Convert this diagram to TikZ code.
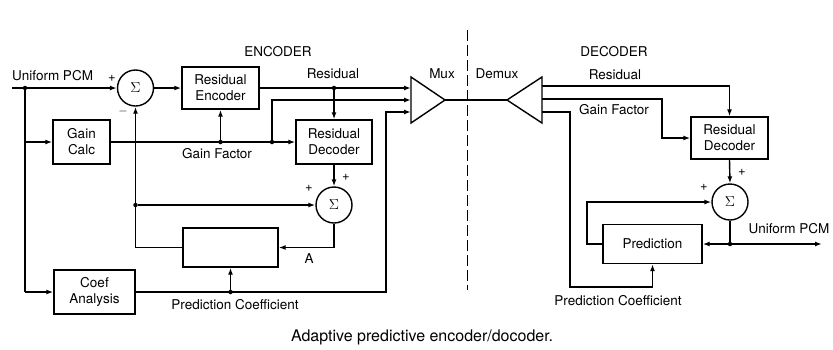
\documentclass[tikz,border=0pt]{standalone}
\usepackage{fontspec}
\setmainfont{TeX Gyre Heros}
\usetikzlibrary{arrows.meta}
\begin{document}
\begin{tikzpicture}[x=1pt,y=-1pt]
\tikzset{
  every node/.style={font=\fontsize{13.5}{16}\selectfont},
  blk/.style={draw, line width=1.4pt, align=center, inner sep=0pt},
  adder/.style={draw, circle, line width=1.4pt, minimum size=36pt, inner sep=0pt,
                font=\fontsize{14}{14}\selectfont},
  wire/.style={line width=1.4pt},
  feed/.style={wire, -{Latex[length=7pt,width=5pt]}},
  tap/.style={circle, fill, inner sep=0pt, minimum size=4.5pt},
  lbl/.style={inner sep=0pt},
  sign/.style={inner sep=0pt, font=\fontsize{13}{13}\selectfont},
}
\useasboundingbox (0,0) rectangle (833,349);

% ---------------- encoder blocks ----------------
\node[adder] (sum1) at (135.5,88) {$\Sigma$};
\node[blk, minimum width=77pt, minimum height=42pt] (renc) at (220.5,88) {Residual\\Encoder};
\node[blk, minimum width=57pt, minimum height=44pt] (gcalc) at (81.5,142) {Gain\\Calc};
\node[blk, minimum width=76pt, minimum height=44pt] (rdec1) at (334,142) {Residual\\Decoder};
\node[adder] (sum2) at (334,205) {$\Sigma$};
\node[blk, minimum width=95pt, minimum height=39pt] (pred1) at (230.5,247.5) {};
\node[blk, minimum width=81pt, minimum height=44pt] (coef) at (94.5,292) {Coef\\Analysis};

% multiplexer
\draw[wire, line join=miter] (411,77) -- (445,100) -- (411,123) -- cycle;
\coordinate (m1) at (411,88);
\coordinate (m2) at (411,100);
\coordinate (m3) at (411,112);
\coordinate (mo) at (445,100);

% ---------------- decoder blocks ----------------
\draw[wire, line join=miter] (507,100) -- (542,77) -- (542,123) -- cycle;
\coordinate (dx) at (507,100);
\coordinate (d1) at (542,86);
\coordinate (d2) at (542,99);
\coordinate (d3) at (542,112);
\node[blk, minimum width=77pt, minimum height=42pt] (rdec2) at (729.5,138) {Residual\\Decoder};
\node[adder] (sum3) at (730,202) {$\Sigma$};
\node[blk, minimum width=99pt, minimum height=39pt] (pred2) at (652.5,244) {Prediction};

% junction points
\coordinate (pcmin) at (12,88);
\node[tap] (jin) at (25,88) {};
\coordinate (jgc) at (25,142);
\coordinate (jca) at (25,292);
\node[tap] (jge) at (220.5,142) {};
\node[tap] (jgd) at (272,142) {};
\node[tap] (jrd) at (334,88) {};
\node[tap] (jfb) at (135.5,205) {};
\node[tap] (jpc) at (230.5,292) {};
\node[tap] (jout) at (730,244) {};
\coordinate (pcmout) at (822,244);

% ---------------- encoder wiring ----------------
\draw[feed] (pcmin) -- (sum1.west);
\draw[wire] (jin) -- (jca);
\draw[feed] (jgc) -- (gcalc.west);
\draw[feed] (jca) -- (coef.west);
\draw[feed] (sum1.east) -- (renc.west);
\draw[feed] (gcalc.east) -- (rdec1.west);
\draw[feed] (jge) -- (renc.south);
\draw[feed] (jgd) |- (m2);
\draw[feed] (renc.east) -- (m1);
\draw[feed] (jrd) -- (rdec1.north);
\draw[feed] (rdec1.south) -- (sum2.north);
\draw[feed] (pred1.west) -| (sum1.south);
\draw[feed] (jfb) -- (sum2.west);
\draw[feed] (sum2.south) |- (pred1.east);
\draw[feed] (coef.east) -- (386,292) |- (m3);
\draw[feed] (jpc) -- (pred1.south);

% channel
\draw[wire] (mo) -- (dx);
\draw[line width=1pt, dash pattern=on 11pt off 4pt] (467,30) -- (467,290);

% ---------------- decoder wiring ----------------
\draw[feed] (d1) -| (rdec2.north);
\draw[feed] (d2) -- (662,99) |- (rdec2.west);
\draw[feed] (d3) -- (570,112) -- (570,287) -| (pred2.south);
\draw[feed] (rdec2.south) -- (sum3.north);
\draw[wire] (sum3.south) -- (jout);
\draw[feed] (jout) -- (pred2.east);
\draw[feed] (jout) -- (pcmout);
\draw[feed] (pred2.west) -- (587,244) |- (sum3.west);

% ---------------- labels ----------------
\node[lbl, anchor=west] at (12,76) {Uniform PCM};
\node[sign] at (112,78) {+};
\node[sign] at (123,111) {$-$};
\node[lbl] at (278,52) {ENCODER};
\node[lbl] at (333,74) {Residual};
\node[lbl] at (217,154) {Gain Factor};
\node[sign] at (309,188) {+};
\node[sign] at (346,177) {+};
\node[lbl] at (309,259) {A};
\node[lbl] at (235,305) {Prediction Coefficient};
\node[lbl] at (442,74) {Mux};
\node[lbl] at (497,74) {Demux};
\node[lbl] at (614,52) {DECODER};
\node[lbl] at (615,75) {Residual};
\node[lbl] at (614,110) {Gain Factor};
\node[sign] at (704,187) {+};
\node[sign] at (742,172) {+};
\node[lbl] at (789,229) {Uniform PCM};
\node[lbl] at (618,301) {Prediction Coefficient};
\node[lbl, font=\fontsize{16}{18}\selectfont] at (422,337) {Adaptive predictive encoder/docoder.};
\end{tikzpicture}
\end{document}
